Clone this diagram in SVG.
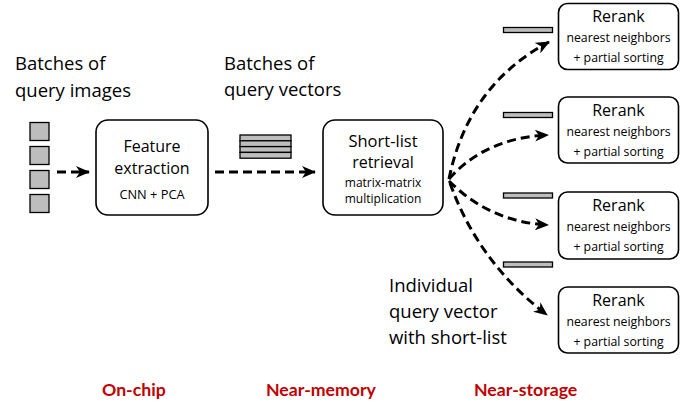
<svg xmlns="http://www.w3.org/2000/svg" width="689" height="408" viewBox="0 0 689 408">
  <style>
    .box { fill: #fff; stroke: #000; stroke-width: 1.6; }
    .cell { fill: #bdbdbd; stroke: #000; stroke-width: 1.3; }
    .t { font-family: "Open Sans", "Noto Sans", sans-serif; fill: #000; }
    .lbl { font-size: 18.5px; }
    .big { font-size: 16px; text-anchor: middle; }
    .small { font-size: 12.3px; text-anchor: middle; }
    .tier { font-family: Lato, "Liberation Sans", sans-serif; font-weight: bold; font-size: 17.7px; fill: #c00000; }
    .flow { fill: none; stroke: #000; stroke-width: 3; stroke-dasharray: 9 5; }
  </style>
  <defs>
    <marker id="head" markerUnits="userSpaceOnUse" viewBox="0 0 14 12" refX="13" refY="6" markerWidth="14" markerHeight="12" orient="auto">
      <path d="M0,0 L14,6 L0,12 L4,6 Z" fill="#000"/>
    </marker>
  </defs>
  <rect width="689" height="408" fill="#fff"/>

  <!-- input batch: query images -->
  <g id="query-images">
    <text class="t lbl" x="15" y="69.5">Batches of</text>
    <text class="t lbl" x="15" y="96.5">query images</text>
    <rect class="cell" x="30" y="122.5" width="19" height="18"/>
    <rect class="cell" x="30" y="146.5" width="19" height="18"/>
    <rect class="cell" x="30" y="170.5" width="19" height="18"/>
    <rect class="cell" x="30" y="194.5" width="19" height="18"/>
  </g>

  <!-- feature extraction stage -->
  <g id="feature-extraction">
    <rect class="box" x="96" y="120" width="112" height="95" rx="12"/>
    <text class="t big" x="152" y="151.5">Feature</text>
    <text class="t big" x="152" y="173.5">extraction</text>
    <text class="t small" x="152" y="198.5" style="font-size:12.8px">CNN + PCA</text>
  </g>

  <!-- batch of query vectors -->
  <g id="query-vectors">
    <text class="t lbl" x="224" y="69.5">Batches of</text>
    <text class="t lbl" x="224" y="95.5">query vectors</text>
    <rect class="cell" x="240" y="135" width="51" height="5.8"/>
    <rect class="cell" x="240" y="140.8" width="51" height="5.8"/>
    <rect class="cell" x="240" y="146.6" width="51" height="5.8"/>
    <rect class="cell" x="240" y="152.4" width="51" height="5.8"/>
  </g>

  <!-- short-list retrieval stage -->
  <g id="short-list-retrieval">
    <rect class="box" x="323" y="120" width="120" height="95" rx="12"/>
    <text class="t big" x="383" y="146.5" style="font-size:16.5px">Short-list</text>
    <text class="t big" x="383" y="168">retrieval</text>
    <text class="t small" x="383" y="186.5" style="font-size:12px">matrix-matrix</text>
    <text class="t small" x="383" y="203" style="font-size:12px">multiplication</text>
  </g>

  <!-- short-list bars -->
  <g id="short-lists">
    <rect class="cell" x="503.5" y="27.5" width="49" height="5"/>
    <rect class="cell" x="503.5" y="112.5" width="49" height="5"/>
    <rect class="cell" x="503.5" y="193" width="49" height="5"/>
    <rect class="cell" x="503.5" y="262" width="49" height="5"/>
  </g>

  <!-- rerank stages -->
  <g id="rerank-1">
    <rect class="box" x="558.5" y="3.5" width="120" height="66" rx="9"/>
    <text class="t big" x="618.5" y="22">Rerank</text>
    <text class="t small" x="618.5" y="42">nearest neighbors</text>
    <text class="t small" x="618.5" y="62">+ partial sorting</text>
  </g>
  <g id="rerank-2">
    <rect class="box" x="558.5" y="97" width="120" height="66" rx="9"/>
    <text class="t big" x="618.5" y="115.5">Rerank</text>
    <text class="t small" x="618.5" y="135.5">nearest neighbors</text>
    <text class="t small" x="618.5" y="155.5">+ partial sorting</text>
  </g>
  <g id="rerank-3">
    <rect class="box" x="558.5" y="192" width="120" height="67" rx="9"/>
    <text class="t big" x="618.5" y="210.5">Rerank</text>
    <text class="t small" x="618.5" y="230.5">nearest neighbors</text>
    <text class="t small" x="618.5" y="250.5">+ partial sorting</text>
  </g>
  <g id="rerank-4">
    <rect class="box" x="558.5" y="287" width="120" height="66" rx="9"/>
    <text class="t big" x="618.5" y="305.5">Rerank</text>
    <text class="t small" x="618.5" y="325.5">nearest neighbors</text>
    <text class="t small" x="618.5" y="345.5">+ partial sorting</text>
  </g>

  <!-- caption for the fan-out -->
  <g id="individual-query">
    <text class="t lbl" x="389" y="292">Individual</text>
    <text class="t lbl" x="389" y="318">query vector</text>
    <text class="t lbl" x="389" y="343.5">with short-list</text>
  </g>

  <!-- connectors -->
  <g id="connectors">
    <path class="flow" d="M57,172 L89,172" marker-end="url(#head)"/>
    <path class="flow" d="M215,172 L315,172" marker-end="url(#head)"/>
    <path class="flow" d="M449,179 Q468,85 549,42" marker-end="url(#head)"/>
    <path class="flow" d="M449,179 Q485,138 548,135" marker-end="url(#head)"/>
    <path class="flow" d="M449,181 Q490,222 548,225" marker-end="url(#head)"/>
    <path class="flow" d="M450,183 Q478,262 547,315" marker-end="url(#head)"/>
  </g>

  <!-- placement tiers -->
  <g id="tiers">
    <text class="tier" x="102" y="395.5">On-chip</text>
    <text class="tier" x="266" y="395.5">Near-memory</text>
    <text class="tier" x="474" y="395.5">Near-storage</text>
  </g>
</svg>
